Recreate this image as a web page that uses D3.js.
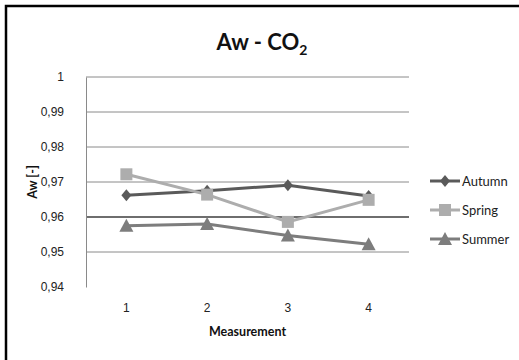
<!DOCTYPE html>
<html>
<head>
<meta charset="utf-8">
<script src="https://cdn.jsdelivr.net/npm/d3@7"></script>
<style>
  body { margin: 0; background: #fff; }
  svg { display: block; font-family: Lato, "Open Sans", sans-serif; }
</style>
</head>
<body>
<svg id="chart" width="519" height="360"></svg>
<script>
// data
var measurements = ["1", "2", "3", "4"];
var autumn = [0.9662, 0.9675, 0.9691, 0.9660];
var spring = [0.9722, 0.9664, 0.9586, 0.9649];
var summer = [0.9575, 0.9580, 0.9547, 0.9522];
var yTicks = [0.94, 0.95, 0.96, 0.97, 0.98, 0.99, 1];

var series = [
  { name: "Autumn", values: autumn, color: "#5a5a5a", marker: "diamond" },
  { name: "Spring", values: spring, color: "#adadad", marker: "square" },
  { name: "Summer", values: summer, color: "#7d7d7d", marker: "triangle" }
];

var svg = d3.select("svg");
var fmt = function(d) { return d === 1 ? "1" : d3.format(".2f")(d).replace(".", ","); };

// outer frame (right/bottom run off the picture)
svg.append("rect").attr("x", 6).attr("y", 6).attr("width", 540).attr("height", 380)
  .attr("fill", "none").attr("stroke", "#000").attr("stroke-width", 2.5);

var pLeft = 86, pRight = 409, pTop = 77, pBottom = 287;
var x = d3.scaleBand().domain(measurements).range([pLeft, pRight]);
var y = d3.scaleLinear().domain([0.94, 1]).range([pBottom, pTop]);

// gridlines
svg.append("g").selectAll("line").data(yTicks.filter(function(d) { return d > 0.94; }))
  .enter().append("line")
  .attr("x1", pLeft).attr("x2", pRight)
  .attr("y1", function(d) { return y(d); }).attr("y2", function(d) { return y(d); })
  .attr("stroke", function(d) { return Math.abs(d - 0.96) < 1e-9 ? "#6e6e6e" : "#8a8a8a"; })
  .attr("stroke-width", function(d) { return Math.abs(d - 0.96) < 1e-9 ? 2 : 1; });

// y axis
var yAxis = svg.append("g").attr("transform", "translate(" + pLeft + ",0)")
  .call(d3.axisLeft(y).tickValues(yTicks).tickFormat(fmt).tickSize(0).tickPadding(22));
yAxis.select(".domain").attr("stroke", "#8a8a8a");
yAxis.selectAll("text").attr("font-size", 12).attr("fill", "#222");

// x axis labels
var xAxis = svg.append("g").attr("transform", "translate(0," + pBottom + ")")
  .call(d3.axisBottom(x).tickSize(0).tickPadding(16));
xAxis.select(".domain").remove();
xAxis.selectAll("text").attr("font-size", 12).attr("fill", "#222");

// lines + markers
var line = d3.line()
  .x(function(d, i) { return x(measurements[i]) + x.bandwidth() / 2; })
  .y(function(d) { return y(d); });

function markerPath(kind) {
  if (kind === "diamond") return "M0,-6L5,0L0,6L-5,0Z";
  if (kind === "square") return "M-6,-6H6V6H-6Z";
  return "M0,-7L7,6H-7Z";
}

series.forEach(function(s) {
  svg.append("path").attr("d", line(s.values))
    .attr("fill", "none").attr("stroke", s.color).attr("stroke-width", 3);
  svg.append("g").selectAll("path").data(s.values).enter().append("path")
    .attr("transform", function(d, i) {
      return "translate(" + (x(measurements[i]) + x.bandwidth() / 2) + "," + y(d) + ")";
    })
    .attr("d", markerPath(s.marker)).attr("fill", s.color);
});

// legend
var legend = svg.append("g").selectAll("g").data(series).enter().append("g")
  .attr("transform", function(d, i) { return "translate(430," + (181 + i * 29) + ")"; });
legend.append("line").attr("x1", 0).attr("x2", 30)
  .attr("stroke", function(d) { return d.color; }).attr("stroke-width", 3);
legend.append("path").attr("transform", "translate(15,0)")
  .attr("d", function(d) { return markerPath(d.marker); })
  .attr("fill", function(d) { return d.color; });
legend.append("text").attr("x", 32).attr("dy", "0.35em").attr("font-size", 13)
  .attr("fill", "#222").text(function(d) { return d.name; });

// title
var title = svg.append("text").attr("x", 262).attr("y", 50).attr("text-anchor", "middle")
  .attr("font-size", 22).attr("font-weight", "bold").attr("fill", "#111");
title.append("tspan").text("Aw - CO");
title.append("tspan").attr("font-size", 14).attr("dy", 5).text("2");

// axis titles
svg.append("text").attr("transform", "translate(37," + ((pTop + pBottom) / 2) + ") rotate(-90)")
  .attr("text-anchor", "middle").attr("font-size", 12.5).attr("font-weight", "bold")
  .attr("fill", "#111").text("Aw [-]");
svg.append("text").attr("x", (pLeft + pRight) / 2).attr("y", 336).attr("text-anchor", "middle")
  .attr("font-size", 12.5).attr("font-weight", "bold").attr("fill", "#111").text("Measurement");
</script>
</body>
</html>
